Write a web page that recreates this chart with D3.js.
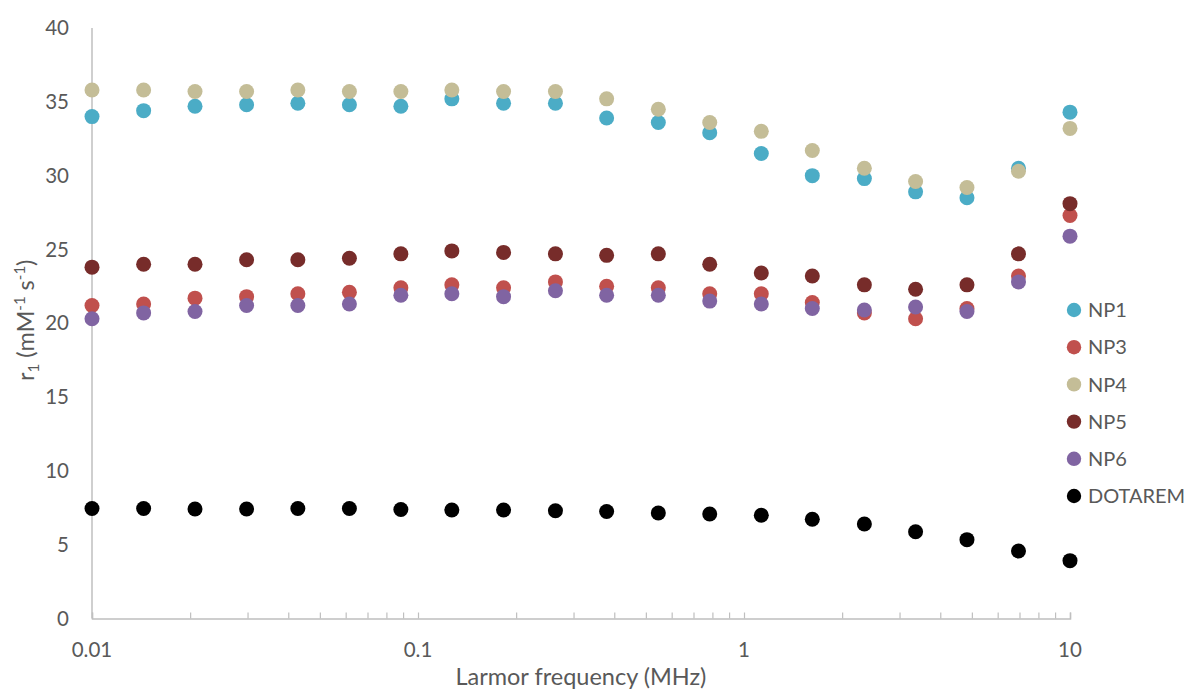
<!DOCTYPE html>
<html>
<head>
<meta charset="utf-8">
<script src="https://cdn.jsdelivr.net/npm/d3@7.9.0/dist/d3.min.js"></script>
<style>
  body { margin: 0; background: #fff; }
  svg { display: block; font-family: Lato, "Open Sans", sans-serif; }
  .tick-label { fill: #595959; font-size: 20.5px; }
  .axis-title { fill: #595959; font-size: 23.5px; }
  .legend text { fill: #595959; font-size: 20px; }
</style>
</head>
<body>
<svg id="chart" width="1186" height="689"></svg>
<script>
// Larmor frequency (MHz)
const freqs = [0.01, 0.0144, 0.0207, 0.0298, 0.0428, 0.0616, 0.0886, 0.127, 0.183, 0.264,
               0.379, 0.546, 0.785, 1.13, 1.62, 2.34, 3.36, 4.83, 6.95, 10];

// r1 values per sample (mM-1 s-1)
const np1 = [34.0, 34.4, 34.7, 34.8, 34.9, 34.8, 34.7, 35.2, 34.9, 34.9,
             33.9, 33.6, 32.9, 31.5, 30.0, 29.8, 28.9, 28.5, 30.5, 34.3];
const np3 = [21.2, 21.3, 21.7, 21.8, 22.0, 22.1, 22.4, 22.6, 22.4, 22.8,
             22.5, 22.4, 22.0, 22.0, 21.4, 20.7, 20.3, 21.0, 23.2, 27.3];
const np4 = [35.8, 35.8, 35.7, 35.7, 35.8, 35.7, 35.7, 35.8, 35.7, 35.7,
             35.2, 34.5, 33.6, 33.0, 31.7, 30.5, 29.6, 29.2, 30.3, 33.2];
const np5 = [23.8, 24.0, 24.0, 24.3, 24.3, 24.4, 24.7, 24.9, 24.8, 24.7,
             24.6, 24.7, 24.0, 23.4, 23.2, 22.6, 22.3, 22.6, 24.7, 28.1];
const np6 = [20.3, 20.7, 20.8, 21.2, 21.2, 21.3, 21.9, 22.0, 21.8, 22.2,
             21.9, 21.9, 21.5, 21.3, 21.0, 20.9, 21.1, 20.8, 22.8, 25.9];
const dotarem = [7.45, 7.45, 7.42, 7.42, 7.45, 7.45, 7.38, 7.35, 7.35, 7.3,
                 7.25, 7.15, 7.08, 6.99, 6.72, 6.4, 5.88, 5.34, 4.57, 3.92];

const seriesNames = ['NP1', 'NP3', 'NP4', 'NP5', 'NP6', 'DOTAREM'];
const seriesColors = ['#4BACC6', '#C0504D', '#C4BD97', '#772C2A', '#8064A2', '#000000'];
const seriesValues = [np1, np3, np4, np5, np6, dotarem];

const yTicks = [0, 5, 10, 15, 20, 25, 30, 35, 40];
const xMajor = [0.01, 0.1, 1, 10];

const svg = d3.select('#chart');
const plot = { left: 92, right: 1070, top: 28, bottom: 618.5 };

const x = d3.scaleLog().domain([0.01, 10]).range([plot.left, plot.right]);
const y = d3.scaleLinear().domain([0, 40]).range([plot.bottom, plot.top]);

// axis lines
svg.append('line')
  .attr('x1', plot.left).attr('x2', plot.left)
  .attr('y1', y(40)).attr('y2', plot.bottom)
  .attr('stroke', '#BFBFBF').attr('stroke-width', 1.5);

const xAxis = d3.axisBottom(x)
  .tickValues(x.ticks())
  .tickSize(-6)
  .tickFormat('');
const gx = svg.append('g')
  .attr('transform', `translate(0,${plot.bottom})`)
  .call(xAxis);
gx.select('.domain').attr('stroke', '#BFBFBF').attr('stroke-width', 1.5);
gx.selectAll('.tick line').attr('stroke', '#BFBFBF').attr('stroke-width', 1.2);

// x tick labels
svg.append('g').selectAll('text')
  .data(xMajor)
  .join('text')
  .attr('class', 'tick-label')
  .attr('x', d => x(d))
  .attr('y', plot.bottom + 38)
  .attr('text-anchor', 'middle')
  .text(d => d3.format('~g')(d));

// y tick labels
svg.append('g').selectAll('text')
  .data(yTicks)
  .join('text')
  .attr('class', 'tick-label')
  .attr('x', 69)
  .attr('y', d => y(d))
  .attr('dy', '0.35em')
  .attr('text-anchor', 'end')
  .text(d => d);

// axis titles
svg.append('text')
  .attr('class', 'axis-title')
  .attr('x', x(0.316))
  .attr('y', 685)
  .attr('text-anchor', 'middle')
  .text('Larmor frequency (MHz)');

const yt = svg.append('text')
  .attr('class', 'axis-title')
  .attr('transform', `translate(34,${y(20.2)}) rotate(-90)`)
  .attr('text-anchor', 'middle');
yt.append('tspan').text('r');
yt.append('tspan').attr('dy', 5).attr('font-size', 15).text('1');
yt.append('tspan').attr('dy', -5).text(' (mM');
yt.append('tspan').attr('dy', -9).attr('font-size', 15).text('-1');
yt.append('tspan').attr('dy', 9).text(' s');
yt.append('tspan').attr('dy', -9).attr('font-size', 15).text('-1');
yt.append('tspan').attr('dy', 9).text(')');

// points
seriesValues.forEach((vals, i) => {
  svg.append('g').selectAll('circle')
    .data(vals.map((v, j) => ({ f: freqs[j], v })))
    .join('circle')
    .attr('cx', d => x(d.f))
    .attr('cy', d => y(d.v))
    .attr('r', 7.5)
    .attr('fill', seriesColors[i]);
});

// legend
const legend = svg.append('g').attr('class', 'legend')
  .selectAll('g')
  .data(seriesNames)
  .join('g')
  .attr('transform', (d, i) => `translate(1074,${310 + i * 37.2})`);
legend.append('circle').attr('r', 7.2).attr('fill', (d, i) => seriesColors[i]);
legend.append('text').attr('x', 14).attr('dy', '0.36em').text(d => d);
</script>
</body>
</html>
